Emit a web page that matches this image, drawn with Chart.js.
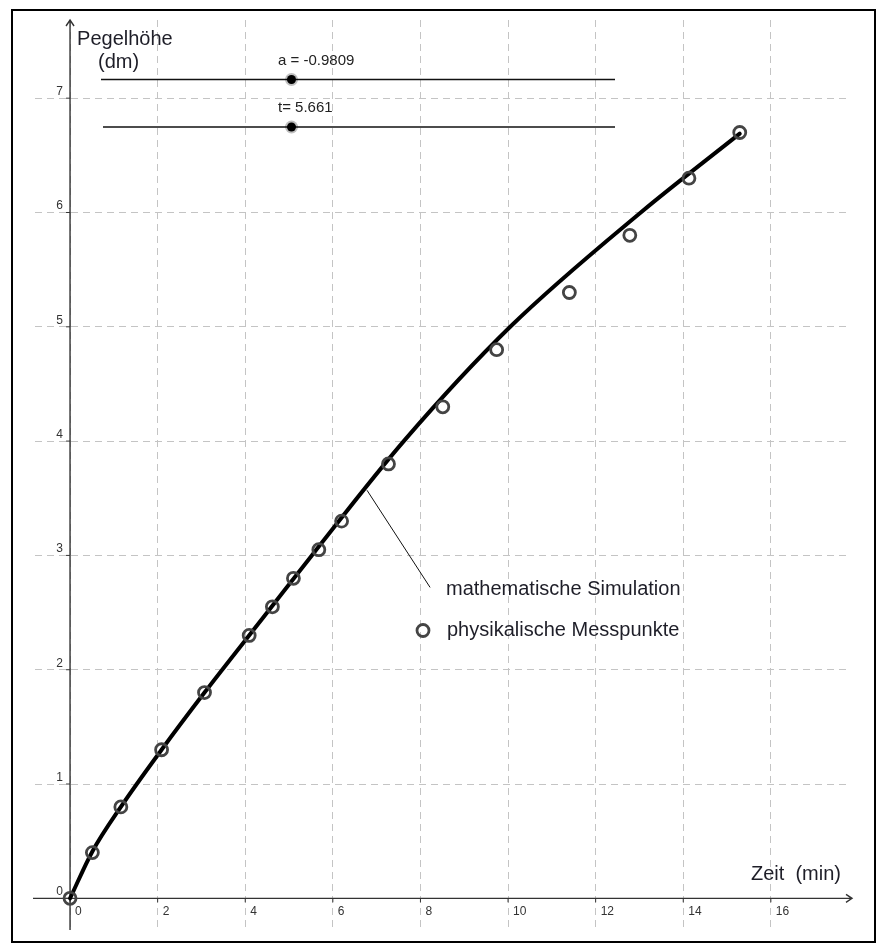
<!DOCTYPE html>
<html lang="de">
<head>
<meta charset="utf-8">
<title>Pegelhöhe</title>
<script src="https://cdn.jsdelivr.net/npm/chart.js@4"></script>
<style>
  html, body { margin: 0; padding: 0; background: #fff; }
  canvas { display: block; }
</style>
</head>
<body>
<canvas id="pegelChart" width="880" height="947"></canvas>
<script>
// mathematische Simulation (Zeit in min, Pegelhöhe in dm)
const simTime = [0, 0.51, 1.16, 2.09, 3.07, 4.5, 5.52, 7.62, 10.05, 13.03, 15.29];
const simHeight = [0, 0.41, 0.80, 1.30, 1.80, 2.50, 3.00, 4.00, 5.00, 6.00, 6.69];

// physikalische Messpunkte
const measTime = [0, 0.51, 1.16, 2.09, 3.07, 4.09, 4.62, 5.10, 5.68, 6.20, 7.27, 8.51, 9.74, 11.40, 12.78, 14.13, 15.29];
const measHeight = [0, 0.40, 0.80, 1.30, 1.80, 2.30, 2.55, 2.80, 3.05, 3.30, 3.80, 4.30, 4.80, 5.30, 5.80, 6.30, 6.70];

const xTicks = [0, 2, 4, 6, 8, 10, 12, 14, 16];
const yTicks = [0, 1, 2, 3, 4, 5, 6, 7];

// slider values shown above the plot
const sliderNames = ['a', 't'];
const sliderValues = [-0.9809, 5.661];

const FONT = "'Liberation Sans', Arial, sans-serif";
const ctx = document.getElementById('pegelChart').getContext('2d');

const toPoints = (xs, ys) => xs.map((v, i) => ({ x: v, y: ys[i] }));

// axes with arrows, tick marks and numbers, axis titles
const axesPlugin = {
  id: 'axesPlugin',
  beforeDatasetsDraw(chart) {
    const { ctx, scales: { x, y } } = chart;
    const x0 = x.getPixelForValue(0);
    const y0 = y.getPixelForValue(0);
    ctx.save();
    ctx.strokeStyle = '#333';
    ctx.lineWidth = 1.4;
    ctx.beginPath();
    ctx.moveTo(x.left - 2, y0);
    ctx.lineTo(x.right + 1, y0);
    ctx.moveTo(x.right - 5, y0 - 4);
    ctx.lineTo(x.right + 1, y0);
    ctx.lineTo(x.right - 5, y0 + 4);
    ctx.moveTo(x0, y.bottom);
    ctx.lineTo(x0, y.top);
    ctx.moveTo(x0 - 4, y.top + 6);
    ctx.lineTo(x0, y.top);
    ctx.lineTo(x0 + 4, y.top + 6);
    ctx.stroke();

    ctx.lineWidth = 1;
    ctx.beginPath();
    xTicks.forEach(v => {
      const px = x.getPixelForValue(v);
      ctx.moveTo(px, y0);
      ctx.lineTo(px, y0 + 4);
    });
    yTicks.forEach(v => {
      const py = y.getPixelForValue(v);
      ctx.moveTo(x0 - 4, py);
      ctx.lineTo(x0, py);
    });
    ctx.stroke();

    ctx.fillStyle = '#333';
    ctx.font = '12px ' + FONT;
    ctx.textAlign = 'left';
    ctx.textBaseline = 'alphabetic';
    xTicks.forEach(v => {
      ctx.fillText(String(v), x.getPixelForValue(v) + 5, y0 + 17);
    });
    ctx.textAlign = 'right';
    yTicks.forEach(v => {
      ctx.fillText(String(v), x0 - 7, y.getPixelForValue(v) - 3);
    });

    ctx.fillStyle = '#1e1e28';
    ctx.font = '20px ' + FONT;
    ctx.textAlign = 'left';
    ctx.fillText('Pegelhöhe', x0 + 7, 45);
    ctx.fillText('(dm)', x0 + 28, 68);
    ctx.fillText('Zeit  (min)', 751, y0 - 18);
    ctx.restore();
  },
  afterDraw(chart) {
    const { ctx, scales: { x, y } } = chart;
    ctx.save();

    // leader line from the curve to its caption
    ctx.strokeStyle = '#111';
    ctx.lineWidth = 1;
    ctx.beginPath();
    ctx.moveTo(x.getPixelForValue(6.78), y.getPixelForValue(3.57));
    ctx.lineTo(x.getPixelForValue(8.22), y.getPixelForValue(2.72));
    ctx.stroke();

    // legend
    ctx.fillStyle = '#1e1e28';
    ctx.font = '20px ' + FONT;
    ctx.textAlign = 'left';
    ctx.fillText('mathematische Simulation', 446, 595);
    ctx.fillText('physikalische Messpunkte', 447, 636);
    ctx.strokeStyle = '#444';
    ctx.lineWidth = 2.8;
    ctx.beginPath();
    ctx.arc(423, 630.5, 6, 0, Math.PI * 2);
    ctx.stroke();

    // sliders
    const rows = [79.5, 127];
    sliderNames.forEach((name, i) => {
      const yy = rows[i];
      ctx.strokeStyle = '#111';
      ctx.lineWidth = 1.5;
      ctx.beginPath();
      ctx.moveTo(i === 0 ? 101 : 103, yy);
      ctx.lineTo(615, yy);
      ctx.stroke();
      ctx.fillStyle = 'rgba(0,0,0,0.25)';
      ctx.beginPath();
      ctx.arc(291.5, yy, 6.5, 0, Math.PI * 2);
      ctx.fill();
      ctx.fillStyle = '#000';
      ctx.beginPath();
      ctx.arc(291.5, yy, 4.5, 0, Math.PI * 2);
      ctx.fill();
      ctx.fillStyle = '#222';
      ctx.font = '15px ' + FONT;
      const sep = name === 't' ? '= ' : ' = ';
      ctx.fillText(name + sep + sliderValues[i], 278, yy - 15);
    });

    // frame
    ctx.strokeStyle = '#000';
    ctx.lineWidth = 2;
    ctx.strokeRect(12, 10, 863, 932);
    ctx.restore();
  }
};

const chart = new Chart(ctx, {
  type: 'scatter',
  data: {
    datasets: [{
      label: 'physikalische Messpunkte',
      data: toPoints(measTime, measHeight),
      pointStyle: 'circle',
      pointRadius: 6,
      borderWidth: 2.8,
      borderColor: '#444',
      backgroundColor: 'rgba(0,0,0,0)',
      showLine: false
    }, {
      label: 'mathematische Simulation',
      data: toPoints(simTime, simHeight),
      showLine: true,
      borderColor: '#000',
      borderWidth: 4,
      borderCapStyle: 'round',
      cubicInterpolationMode: 'monotone',
      pointRadius: 0,
      fill: false
    }]
  },
  options: {
    responsive: false,
    devicePixelRatio: 1,
    animation: false,
    layout: { padding: { left: 35, right: 29, top: 20, bottom: 17 } },
    plugins: { legend: { display: false }, tooltip: { enabled: false } },
    scales: {
      x: {
        type: 'linear',
        min: -0.8,
        max: 17.83,
        afterBuildTicks: s => { s.ticks = xTicks.map(v => ({ value: v })); },
        ticks: { display: false },
        grid: { color: '#c4c4c4', lineWidth: 1, drawTicks: false },
        border: { display: false, dash: [7, 5] }
      },
      y: {
        type: 'linear',
        min: -0.277,
        max: 7.684,
        afterBuildTicks: s => { s.ticks = yTicks.map(v => ({ value: v })); },
        ticks: { display: false },
        grid: { color: '#c4c4c4', lineWidth: 1, drawTicks: false },
        border: { display: false, dash: [7, 5] }
      }
    }
  },
  plugins: [axesPlugin]
});
</script>
</body>
</html>
